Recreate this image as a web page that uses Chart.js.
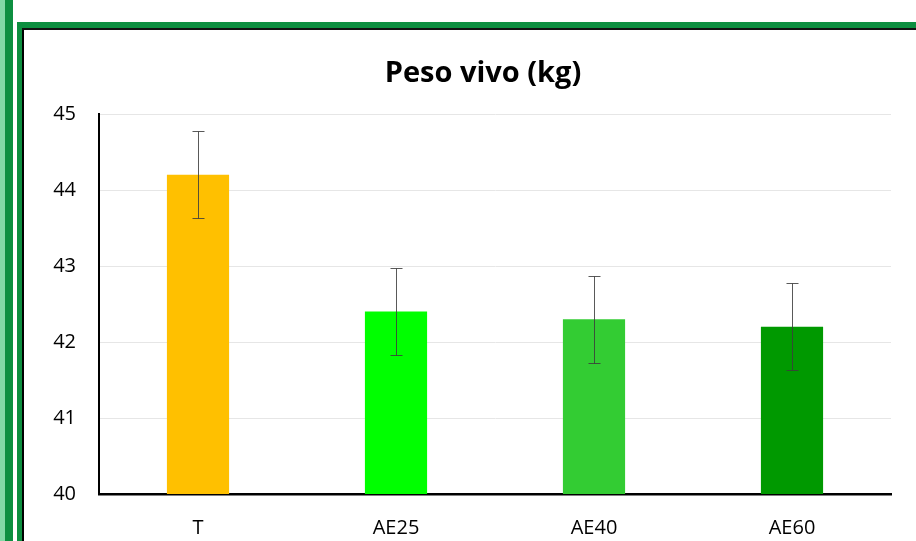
<!DOCTYPE html>
<html>
<head>
<meta charset="utf-8">
<script src="https://cdn.jsdelivr.net/npm/chart.js@4"></script>
<style>
  html, body { margin: 0; padding: 0; background: #fff; }
  body { width: 916px; height: 541px; position: relative; overflow: hidden; }
  .b { position: absolute; }
  #wrap { position: absolute; left: 0; top: 0; width: 916px; height: 541px; }
</style>
</head>
<body>
<div class="b" style="left:0;top:0;width:5px;height:541px;background:#82d9a6"></div>
<div class="b" style="left:5px;top:0;width:8px;height:541px;background:#0d8f40"></div>
<div class="b" style="left:17px;top:22px;width:5px;height:519px;background:#0d8f40"></div>
<div class="b" style="left:17px;top:22px;width:899px;height:6px;background:#0d8f40"></div>
<div class="b" style="left:22px;top:28px;width:2px;height:513px;background:#000"></div>
<div class="b" style="left:22px;top:28px;width:894px;height:2px;background:#111"></div>
<div id="wrap"><canvas id="c"></canvas></div>
<script>
const categories = ["T", "AE25", "AE40", "AE60"];
const values = [44.2, 42.4, 42.3, 42.2];
const errors = [0.57, 0.57, 0.57, 0.57];
const barColors = ["#FFC000", "#00FF00", "#33CC33", "#009900"];
const yTicks = [40, 41, 42, 43, 44, 45];
const titleText = "Peso vivo (kg)";

const errorBarPlugin = {
  id: "errorBars",
  afterDatasetsDraw(chart) {
    const ctx = chart.ctx;
    const meta = chart.getDatasetMeta(0);
    const y = chart.scales.y;
    ctx.save();
    ctx.strokeStyle = "rgba(60,60,60,0.85)";
    ctx.lineWidth = 1;
    meta.data.forEach((bar, i) => {
      const v = values[i], e = errors[i];
      const x = Math.round(bar.x) + 0.5;
      const yt = Math.round(y.getPixelForValue(v + e)) + 0.5;
      const yb = Math.round(y.getPixelForValue(v - e)) + 0.5;
      ctx.beginPath();
      ctx.moveTo(x, yt); ctx.lineTo(x, yb);
      ctx.moveTo(x - 6, yt); ctx.lineTo(x + 6, yt);
      ctx.moveTo(x - 6, yb); ctx.lineTo(x + 6, yb);
      ctx.stroke();
    });
    ctx.restore();
  }
};

const titlePlugin = {
  id: "offsetTitle",
  afterDraw(chart) {
    const ctx = chart.ctx;
    ctx.save();
    ctx.fillStyle = "#000";
    ctx.font = "bold 29px 'Open Sans'";
    ctx.textAlign = "center";
    ctx.textBaseline = "alphabetic";
    ctx.fillText(titleText, 483, 82);
    ctx.restore();
  }
};

new Chart(document.getElementById("c"), {
  type: "bar",
  data: {
    labels: categories,
    datasets: [{
      data: values,
      backgroundColor: barColors,
      borderWidth: 0,
      barPercentage: 0.314,
      categoryPercentage: 1.0
    }]
  },
  options: {
    responsive: true,
    maintainAspectRatio: false,
    animation: false,
    layout: { padding: { left: 0, right: 25, top: 114, bottom: 0 } },
    plugins: {
      legend: { display: false },
      tooltip: { enabled: false },
      title: { display: false }
    },
    scales: {
      x: {
        grid: { display: false, drawTicks: false },
        border: { display: true, color: "#000", width: 2.5 },
        ticks: { color: "#000", font: { family: "'Open Sans'", size: 20 }, padding: 22 },
        afterFit(s) { s.height = 47; }
      },
      y: {
        min: 40, max: 45,
        afterBuildTicks(s) { s.ticks = yTicks.map(v => ({ value: v })); },
        grid: { color: "#e6e6e6", lineWidth: 1, drawTicks: false },
        border: { display: true, color: "#000", width: 2 },
        ticks: { color: "#000", font: { family: "'Open Sans'", size: 20 }, padding: 23 },
        afterFit(s) { s.width = 99; }
      }
    }
  },
  plugins: [errorBarPlugin, titlePlugin]
});
</script>
</body>
</html>
